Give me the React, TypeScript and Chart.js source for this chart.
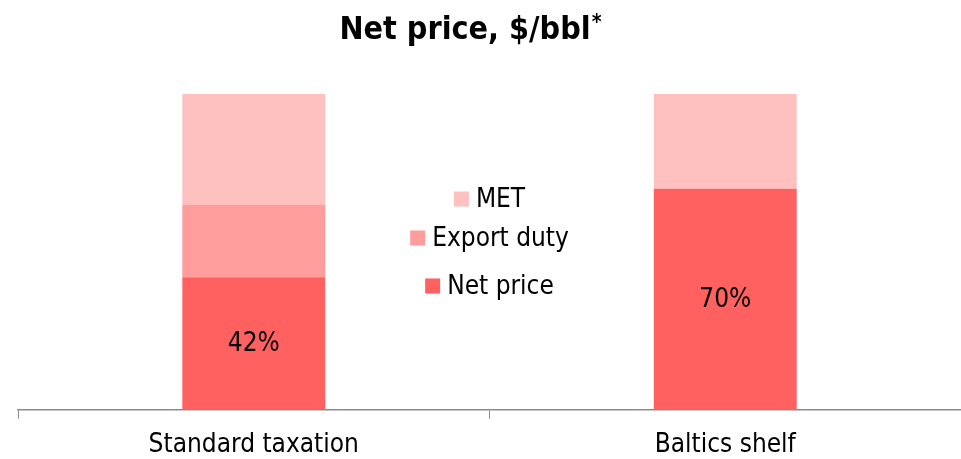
import { useEffect, useRef } from "react";
import { Chart, registerables } from "chart.js";

Chart.register(...registerables);

const categories = ["Standard taxation", "Baltics shelf"];
const seriesNames = ["Net price", "Export duty", "MET"];
const netPrice = [42, 70];
const exportDuty = [23, 0];
const met = [35, 30];
const seriesColors = ["#FF6161", "#FF9C9C", "#FFC0C0"];
const titleText = "Net price, $/bbl";
const titleMark = "*";

const FONT = '"DejaVu Sans Condensed", "DejaVu Sans", sans-serif';

const titlePlugin = {
  id: "customTitle",
  afterDraw(chart: any) {
    const ctx = chart.ctx;
    ctx.save();
    ctx.fillStyle = "#000";
    ctx.textBaseline = "alphabetic";
    ctx.font = `bold 32px ${FONT}`;
    const w = ctx.measureText(titleText).width;
    ctx.font = `bold 21px ${FONT}`;
    const sw = ctx.measureText(titleMark).width;
    const x0 = 470 - (w + sw) / 2;
    ctx.font = `bold 32px ${FONT}`;
    ctx.textAlign = "left";
    ctx.fillText(titleText, x0, 39);
    ctx.font = `bold 21px ${FONT}`;
    ctx.fillText(titleMark, x0 + w + 1, 29);
    ctx.restore();
  },
};

const legendPlugin = {
  id: "centerLegend",
  afterDraw(chart: any) {
    const ctx = chart.ctx;
    const area = chart.chartArea;
    const cx = (area.left + area.right) / 2;
    const rowOffsets = [192, 144, 105];
    ctx.save();
    ctx.font = `26px ${FONT}`;
    ctx.textBaseline = "middle";
    ctx.textAlign = "left";
    chart.data.datasets.forEach((ds: any, i: number) => {
      const label = ds.label;
      const tw = ctx.measureText(label).width;
      const box = 15;
      const gap = 7;
      const total = box + gap + tw;
      const x = cx - total / 2;
      const y = area.top + rowOffsets[i];
      ctx.fillStyle = ds.backgroundColor;
      ctx.fillRect(x, y - box / 2, box, box);
      ctx.fillStyle = "#000";
      ctx.fillText(label, x + box + gap, y + 1);
    });
    ctx.restore();
  },
};

const valueLabelPlugin = {
  id: "valueLabels",
  afterDatasetsDraw(chart: any) {
    const ctx = chart.ctx;
    const meta = chart.getDatasetMeta(0);
    const data = chart.data.datasets[0].data;
    ctx.save();
    ctx.font = `26px ${FONT}`;
    ctx.fillStyle = "#000";
    ctx.textAlign = "center";
    ctx.textBaseline = "middle";
    meta.data.forEach((el: any, i: number) => {
      const y = (el.y + el.base) / 2;
      ctx.fillText(`${data[i]}%`, el.x, y + 1);
    });
    ctx.restore();
  },
};

export default function App() {
  const ref = useRef<HTMLCanvasElement | null>(null);

  useEffect(() => {
    if (!ref.current) return;
    const chart = new Chart(ref.current, {
      type: "bar",
      data: {
        labels: categories,
        datasets: [
          { label: seriesNames[0], data: netPrice, backgroundColor: seriesColors[0] },
          { label: seriesNames[1], data: exportDuty, backgroundColor: seriesColors[1] },
          { label: seriesNames[2], data: met, backgroundColor: seriesColors[2] },
        ],
      },
      options: {
        animation: false,
        responsive: true,
        maintainAspectRatio: false,
        datasets: {
          bar: {
            categoryPercentage: 1,
            barPercentage: 0.303,
            borderWidth: 0,
          },
        },
        layout: { padding: { left: 18, right: 0, top: 94, bottom: 0 } },
        plugins: {
          legend: { display: false },
          title: { display: false },
          tooltip: { enabled: false },
        },
        scales: {
          x: {
            stacked: true,
            grid: {
              display: true,
              drawOnChartArea: false,
              drawTicks: true,
              tickLength: 9,
              color: "#8C8C8C",
              offset: true,
            },
            border: { display: true, color: "#8C8C8C", width: 1.5 },
            ticks: {
              color: "#000",
              padding: 11,
              font: { family: FONT, size: 26, lineHeight: 1.2 },
            },
          },
          y: {
            stacked: true,
            display: false,
            min: 0,
            max: 100,
          },
        },
      },
      plugins: [titlePlugin, legendPlugin, valueLabelPlugin],
    });
    return () => chart.destroy();
  }, []);

  return (
    <div style={{ position: "fixed", left: 0, top: 0, width: 961, height: 472, background: "#fff" }}>
      <canvas ref={ref} />
    </div>
  );
}
